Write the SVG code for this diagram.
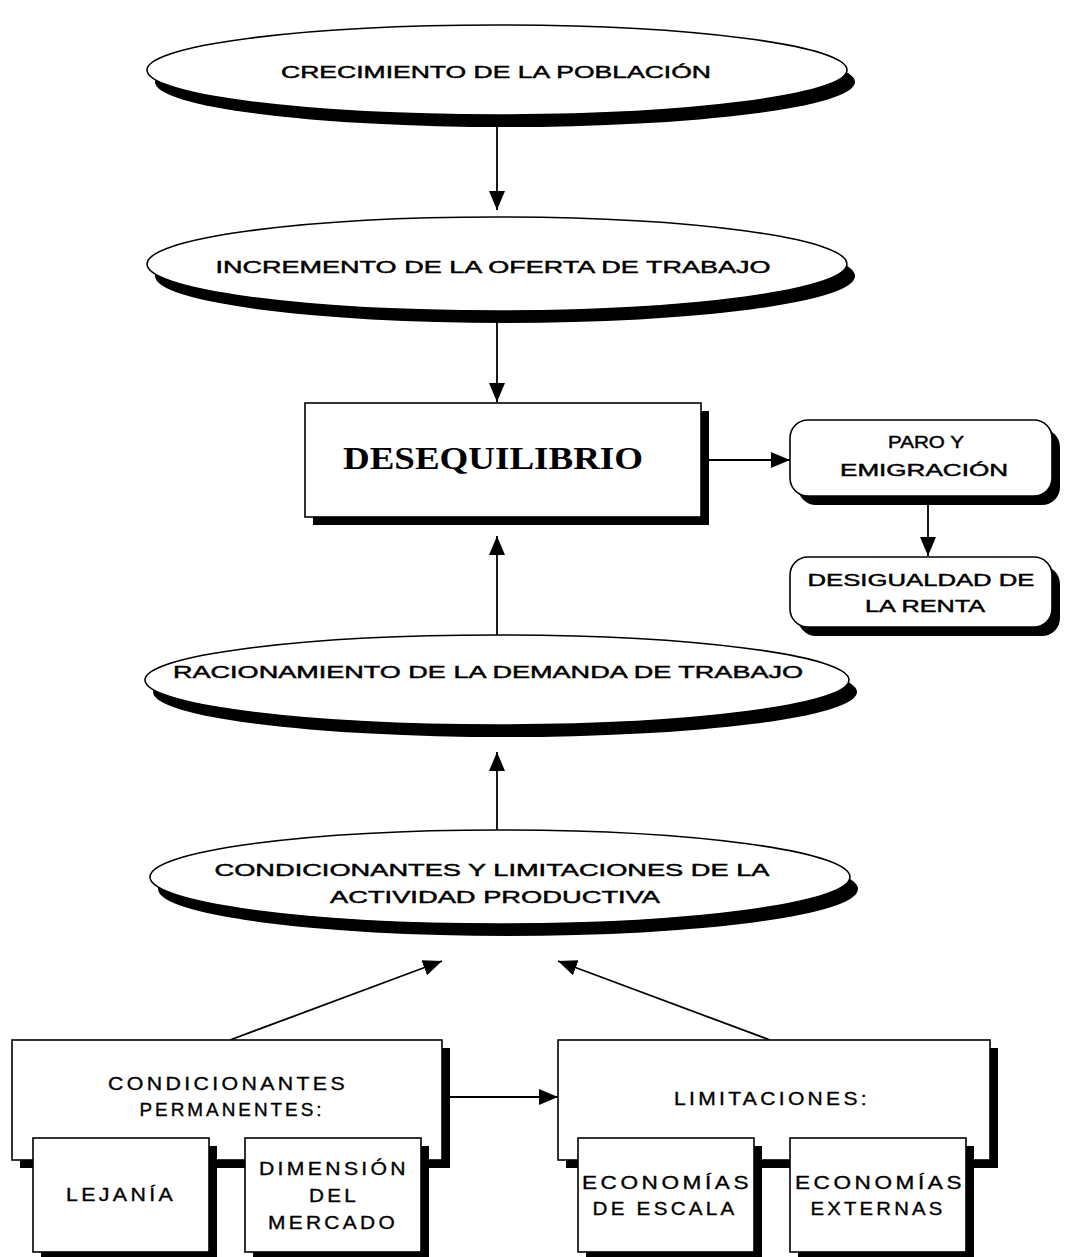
<svg xmlns="http://www.w3.org/2000/svg" width="1076" height="1257" viewBox="0 0 1076 1257">
<style>
.bg{fill:#ffffff}
.sh{fill:#000000;stroke:none}
.nd{fill:#ffffff;stroke:#000000;stroke-width:1.6}
.t{font-family:"Liberation Sans",Arial,sans-serif;font-size:17px;fill:#000000;stroke:#000000;stroke-width:0.45;text-anchor:middle;dominant-baseline:central}
.b{font-size:19px;letter-spacing:3px;stroke-width:0.35}
.big{font-family:"Liberation Serif","Times New Roman",serif;font-size:32px;font-weight:bold;fill:#000000;text-anchor:middle;dominant-baseline:central}
.cn{fill:none;stroke:#000000;stroke-width:1.8}
</style>
<defs>
<marker id="ah" markerUnits="userSpaceOnUse" markerWidth="20" markerHeight="18" viewBox="0 0 20 18" refX="19" refY="9" orient="auto">
<path d="M0,1 L19,9 L0,17 Z" fill="#000000"/>
</marker>
</defs>
<rect class="bg" x="0" y="0" width="1076" height="1257"/>

<g id="connectors">
<line class="cn" x1="497" y1="127" x2="497" y2="210" marker-end="url(#ah)"/>
<line class="cn" x1="497" y1="322" x2="497" y2="402" marker-end="url(#ah)"/>
<line class="cn" x1="708" y1="460" x2="790" y2="460" marker-end="url(#ah)"/>
<line class="cn" x1="928" y1="503" x2="928" y2="556" marker-end="url(#ah)"/>
<line class="cn" x1="497" y1="636" x2="497" y2="536" marker-end="url(#ah)"/>
<line class="cn" x1="497" y1="830" x2="497" y2="752" marker-end="url(#ah)"/>
<line class="cn" x1="230" y1="1040" x2="442" y2="961" marker-end="url(#ah)"/>
<line class="cn" x1="770" y1="1040" x2="558" y2="961" marker-end="url(#ah)"/>
<line class="cn" x1="450" y1="1097" x2="558" y2="1097" marker-end="url(#ah)"/>
</g>

<g id="n-crecimiento">
<ellipse class="sh" cx="505" cy="82" rx="350" ry="45"/>
<ellipse class="nd" cx="497" cy="70" rx="350" ry="45"/>
<text class="t" x="496" y="72" textLength="430" lengthAdjust="spacingAndGlyphs">CRECIMIENTO DE LA POBLACIÓN</text>
</g>

<g id="n-incremento">
<ellipse class="sh" cx="505" cy="276" rx="350" ry="47"/>
<ellipse class="nd" cx="497" cy="264" rx="350" ry="47"/>
<text class="t" x="493" y="267" textLength="555" lengthAdjust="spacingAndGlyphs">INCREMENTO DE LA OFERTA DE TRABAJO</text>
</g>

<g id="n-desequilibrio">
<rect class="sh" x="313" y="411" width="396" height="114"/>
<rect class="nd" x="305" y="403" width="396" height="114"/>
<text class="big" x="493" y="458" textLength="300" lengthAdjust="spacingAndGlyphs">DESEQUILIBRIO</text>
</g>

<g id="n-paro">
<rect class="sh" x="798" y="429" width="262" height="76" rx="18"/>
<rect class="nd" x="790" y="420" width="262" height="76" rx="18"/>
<text class="t" x="926" y="442" textLength="76" lengthAdjust="spacingAndGlyphs">PARO Y</text>
<text class="t" x="924" y="470" textLength="168" lengthAdjust="spacingAndGlyphs">EMIGRACIÓN</text>
</g>

<g id="n-desigualdad">
<rect class="sh" x="798" y="566" width="262" height="70" rx="18"/>
<rect class="nd" x="790" y="557" width="262" height="70" rx="18"/>
<text class="t" x="921" y="580" textLength="227" lengthAdjust="spacingAndGlyphs">DESIGUALDAD DE</text>
<text class="t" x="925" y="606" textLength="120" lengthAdjust="spacingAndGlyphs">LA RENTA</text>
</g>

<g id="n-racionamiento">
<ellipse class="sh" cx="505" cy="692" rx="352" ry="45"/>
<ellipse class="nd" cx="497" cy="680" rx="352" ry="45"/>
<text class="t" x="488" y="672" textLength="630" lengthAdjust="spacingAndGlyphs">RACIONAMIENTO DE LA DEMANDA DE TRABAJO</text>
</g>

<g id="n-condicionantes-actividad">
<ellipse class="sh" cx="508" cy="889" rx="350" ry="47"/>
<ellipse class="nd" cx="500" cy="877" rx="350" ry="47"/>
<text class="t" x="492" y="870" textLength="555" lengthAdjust="spacingAndGlyphs">CONDICIONANTES Y LIMITACIONES DE LA</text>
<text class="t" x="495" y="897" textLength="330" lengthAdjust="spacingAndGlyphs">ACTIVIDAD PRODUCTIVA</text>
</g>

<g id="n-permanentes">
<rect class="sh" x="20" y="1048" width="430" height="120"/>
<rect class="nd" x="12" y="1040" width="430" height="120"/>
<text class="t b" x="228" y="1083" textLength="240" lengthAdjust="spacingAndGlyphs">CONDICIONANTES</text>
<text class="t b" x="232" y="1109" textLength="185" lengthAdjust="spacingAndGlyphs">PERMANENTES:</text>
</g>

<g id="n-lejania">
<rect class="sh" x="41" y="1146" width="176" height="114"/>
<rect class="nd" x="33" y="1138" width="176" height="114"/>
<text class="t b" x="121" y="1194" textLength="110" lengthAdjust="spacingAndGlyphs">LEJANÍA</text>
</g>

<g id="n-dimension">
<rect class="sh" x="253" y="1146" width="176" height="114"/>
<rect class="nd" x="245" y="1138" width="176" height="114"/>
<text class="t b" x="334" y="1168" textLength="150" lengthAdjust="spacingAndGlyphs">DIMENSIÓN</text>
<text class="t b" x="334" y="1195" textLength="50" lengthAdjust="spacingAndGlyphs">DEL</text>
<text class="t b" x="333" y="1222" textLength="130" lengthAdjust="spacingAndGlyphs">MERCADO</text>
</g>

<g id="n-limitaciones">
<rect class="sh" x="566" y="1048" width="432" height="120"/>
<rect class="nd" x="558" y="1040" width="432" height="120"/>
<text class="t b" x="772" y="1098" textLength="196" lengthAdjust="spacingAndGlyphs">LIMITACIONES:</text>
</g>

<g id="n-escala">
<rect class="sh" x="586" y="1146" width="176" height="114"/>
<rect class="nd" x="578" y="1138" width="176" height="114"/>
<text class="t b" x="667" y="1182" textLength="170" lengthAdjust="spacingAndGlyphs">ECONOMÍAS</text>
<text class="t b" x="665" y="1208" textLength="145" lengthAdjust="spacingAndGlyphs">DE ESCALA</text>
</g>

<g id="n-externas">
<rect class="sh" x="798" y="1146" width="176" height="114"/>
<rect class="nd" x="790" y="1138" width="176" height="114"/>
<text class="t b" x="880" y="1182" textLength="170" lengthAdjust="spacingAndGlyphs">ECONOMÍAS</text>
<text class="t b" x="878" y="1208" textLength="135" lengthAdjust="spacingAndGlyphs">EXTERNAS</text>
</g>
</svg>
